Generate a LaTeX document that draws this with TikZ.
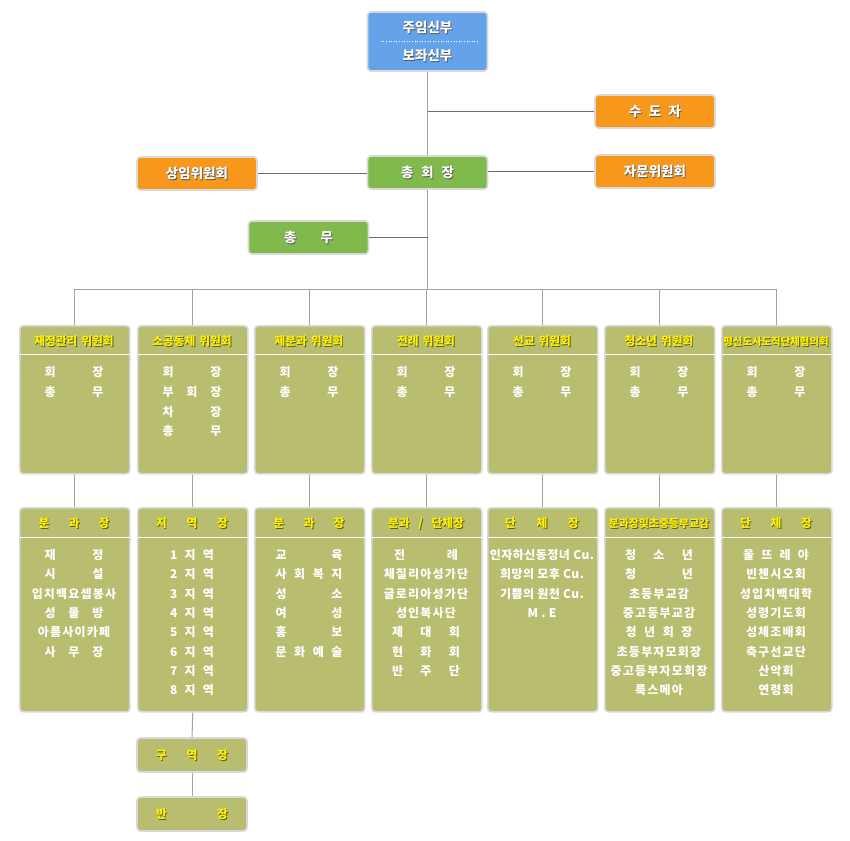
\documentclass[tikz,border=0pt]{standalone}
\usepackage{fontspec}
\setmainfont{Noto Sans CJK KR}
\newfontfamily\krsp[LetterSpace=10]{Noto Sans CJK KR}
\newfontfamily\krfive[LetterSpace=4]{Noto Sans CJK KR}
\newfontfamily\kr{Noto Sans CJK KR}
\usetikzlibrary{calc}
\definecolor{topblue}{HTML}{64A2EA}
\definecolor{toporange}{HTML}{F7981D}
\definecolor{topgreen}{HTML}{80BA4C}
\definecolor{boxolive}{HTML}{B8BD70}
\definecolor{boxborder}{HTML}{D9D9D9}
\definecolor{shadowc}{HTML}{5E5E26}
\definecolor{tshadow}{HTML}{555555}
\definecolor{treegray}{HTML}{A3A3A3}
\definecolor{branchgray}{HTML}{6E6E6E}
\newcommand{\spr}[2]{\makebox[#1pt][s]{#2}}
\newcommand{\ysh}[1]{\leavevmode\rlap{\kern0.9pt\raisebox{-0.9pt}{\color{shadowc}#1}}{\color{yellow}#1}}
\newcommand{\wsh}[1]{\leavevmode\rlap{\kern0.8pt\raisebox{-0.8pt}{\color{tshadow}#1}}{\color{white}#1}}
\begin{document}
\begin{tikzpicture}[x=1pt,y=-1pt,
  box/.style={draw=boxborder, line width=1.6pt, rounded corners=3.5pt, inner sep=0pt},
  topbox/.style={box, minimum width=120pt, minimum height=33pt},
  cbox/.style={box, fill=boxolive, minimum width=110pt, anchor=north west},
  toptext/.style={inner sep=0pt, font=\kr\bfseries\fontsize{13.5}{13.5}\selectfont, text height=10.5pt, text depth=1pt},
  head/.style={inner sep=0pt, font=\kr\bfseries\fontsize{11.7}{11.7}\selectfont, text height=9.6pt, text depth=0.8pt},
  body/.style={inner sep=0pt, text=white, font=\krsp\bfseries\fontsize{12}{12}\selectfont, text height=9.8pt, text depth=0.8pt},
  tree/.style={draw=treegray, line width=1pt},
  branch/.style={draw=branchgray, line width=1pt},
  sep/.style={draw=white, line width=1pt}]
\useasboundingbox (0,0) rectangle (850,840);

% ---------- top part ----------
\node[topbox, fill=topblue, minimum height=59pt] (pastor) at (427.5,41.5) {};
\node[toptext] (p1) at (427.5,28) {\wsh{주임신부}};
\node[toptext] (p2) at (427.5,56) {\wsh{보좌신부}};
\draw[white, dotted, line width=0.6pt] ($(pastor.west)+(14,0)$) -- ($(pastor.east)+(-10,0)$);

\node[topbox, fill=toporange] (sudoja) at (655,111.5) {};
\node[toptext] (sudojat) at (sudoja.center) {\wsh{\spr{52}{수\hfill 도\hfill 자}}};

\node[topbox, fill=topgreen] (chair) at (427.5,172.5) {};
\node[toptext] (chairt) at (chair.center) {\wsh{\spr{53}{총\hfill 회\hfill 장}}};

\node[topbox, fill=toporange] (sangim) at (197,173.5) {};
\node[toptext] (sangimt) at (sangim.center) {\wsh{상임위원회}};

\node[topbox, fill=toporange] (jamun) at (655,171.5) {};
\node[toptext] (jamunt) at (jamun.center) {\wsh{자문위원회}};

\node[topbox, fill=topgreen] (chongmu) at (308.5,237.5) {};
\node[toptext] (chongmut) at (chongmu.center) {\wsh{\spr{49}{총\hfill 무}}};

\coordinate (bar) at (427.5,289);

% ---------- committees ----------
\foreach \i/\xl in {1/19,2/137,3/254,4/371,5/487,6/604,7/721}{
  \node[cbox, minimum height=148pt] (c\i) at (\xl,325) {};
  \node[cbox, minimum height=204pt] (d\i) at (\xl,507) {};
  \draw[sep] ($(c\i.north west)+(1,29)$) -- ($(c\i.north east)+(-1,29)$);
  \draw[sep] ($(d\i.north west)+(1,30)$) -- ($(d\i.north east)+(-1,30)$);
}

% connectors
\draw[tree] (pastor.south) -- (chair.north);
\draw[tree] (chair.south) -- (bar);
\draw[tree] (c1.north |- bar) -- (c7.north |- bar);
\foreach \i in {1,...,7}{
  \draw[tree] (c\i.north |- bar) -- (c\i.north);
  \draw[tree] (c\i.south) -- (d\i.north);
}
\draw[branch] (sudoja.west) -- (sudoja.west -| pastor.south);
\draw[branch] (sangim.east) -- (sangim.east -| chair.west);
\draw[branch] (jamun.west -| chair.east) -- (jamun.west);
\draw[branch] (chongmu.east) -- (chongmu.east -| chair.south);

% committee headers
\node[head] (h1) at (74,341) {\ysh{재정관리\hspace{4pt}위원회}};
\node[head] (h2) at (192,341) {\ysh{소공동체\hspace{4pt}위원회}};
\node[head] (h3) at (309,341) {\ysh{제분과\hspace{4pt}위원회}};
\node[head] (h4) at (426,341) {\ysh{전례\hspace{4pt}위원회}};
\node[head] (h5) at (542,341) {\ysh{선교\hspace{4pt}위원회}};
\node[head] (h6) at (659,341) {\ysh{청소년\hspace{4pt}위원회}};
\node[head, font=\kr\bfseries\fontsize{10.4}{10.4}\selectfont] (h7) at (776,341) {\ysh{평신도사도직단체협의회}};

% committee bodies
\foreach \i/\xc in {1/74,3/309,4/426,5/542,6/659,7/776}{
  \node[body] (cb\i-1) at (\xc,372) {\spr{59}{회\hfill 장}};
  \node[body] (cb\i-2) at (\xc,392) {\spr{59}{총\hfill 무}};
}
\node[body] (cb2-1) at (192,372) {\spr{59}{회\hfill 장}};
\node[body] (cb2-2) at (192,392) {\spr{59}{부\hfill 회\hfill 장}};
\node[body] (cb2-3) at (192,411.5) {\spr{59}{차\hfill 장}};
\node[body] (cb2-4) at (192,431) {\spr{59}{총\hfill 무}};

% lower headers
\node[head] (k1) at (74,523) {\ysh{\spr{71}{분\hfill 과\hfill 장}}};
\node[head] (k2) at (192,523) {\ysh{\spr{72}{지\hfill 역\hfill 장}}};
\node[head] (k3) at (309,523) {\ysh{\spr{71}{분\hfill 과\hfill 장}}};
\node[head] (k4) at (426,523) {\ysh{\spr{76}{분과\hfill /\hfill 단체장}}};
\node[head] (k5) at (542,523) {\ysh{\spr{74}{단\hfill 체\hfill 장}}};
\node[head, font=\kr\bfseries\fontsize{10.9}{10.9}\selectfont] (k6) at (659,523) {\ysh{분과장및초중등부교감}};
\node[head] (k7) at (776,523) {\ysh{\spr{72}{단\hfill 체\hfill 장}}};

% lower bodies
\foreach [count=\k] \txt in {{\spr{59}{재\hfill 정}},{\spr{59}{시\hfill 설}},{입치백요셉봉사},{\spr{59}{성\hfill 물\hfill 방}},{아름사이카페},{\spr{59}{사\hfill 무\hfill 장}}}
  \node[body] (e1-\k) at (74,{555+19.3*(\k-1)}) {\txt};
\foreach \k in {1,...,8}
  \node[body] (e2-\k) at (192,{555+19.3*(\k-1)}) {\spr{44}{\k\hfill 지\hfill 역}};
\foreach [count=\k] \txt in {{\spr{67}{교\hfill 육}},{\spr{67}{사\hfill 회\hfill 복\hfill 지}},{\spr{67}{성\hfill 소}},{\spr{67}{여\hfill 성}},{\spr{67}{홍\hfill 보}},{\spr{67}{문\hfill 화\hfill 예\hfill 술}}}
  \node[body] (e3-\k) at (309,{555+19.3*(\k-1)}) {\txt};
\foreach [count=\k] \txt in {{\spr{64}{전\hfill 례}},{체칠리아성가단},{글로리아성가단},{성인복사단},{\spr{68}{제\hfill 대\hfill 회}},{\spr{68}{현\hfill 화\hfill 회}},{\spr{68}{반\hfill 주\hfill 단}}}
  \node[body] (e4-\k) at (426,{555+19.3*(\k-1)}) {\txt};
\foreach [count=\k] \txt in {{인자하신동정녀 Cu.},{희망의 모후 Cu.},{기쁨의 원천 Cu.},{M . E}}
  \node[body, font=\krfive\bfseries\fontsize{12}{12}\selectfont] (e5-\k) at (542,{555+19.3*(\k-1)}) {\txt};
\foreach [count=\k] \txt in {{\spr{68}{청\hfill 소\hfill 년}},{\spr{68}{청\hfill 년}},{초등부교감},{중고등부교감},{\spr{67}{청\hfill 년\hfill 회\hfill 장}},{초등부자모회장},{중고등부자모회장},{룩스메아}}
  \node[body] (e6-\k) at (659,{555+19.3*(\k-1)}) {\txt};
\foreach [count=\k] \txt in {{\spr{66}{울\hfill 뜨\hfill 레\hfill 야}},{빈첸시오회},{성입치백대학},{성령기도회},{성체조배회},{축구선교단},{산악회},{연령회}}
  \node[body] (e7-\k) at (776,{555+19.3*(\k-1)}) {\txt};

% sub boxes
\node[box, fill=boxolive, minimum width=110pt, minimum height=34pt] (guyeok) at (192,755) {};
\node[head] (guyeokt) at (guyeok.center) {\ysh{\spr{72}{구\hfill 역\hfill 장}}};
\node[box, fill=boxolive, minimum width=110pt, minimum height=34pt] (banjang) at (192,814) {};
\node[head] (banjangt) at (banjang.center) {\ysh{\spr{72}{반\hfill 장}}};
\draw[tree] (d2.south) -- (guyeok.north);
\draw[tree] (guyeok.south) -- (banjang.north);
\end{tikzpicture}
\end{document}
